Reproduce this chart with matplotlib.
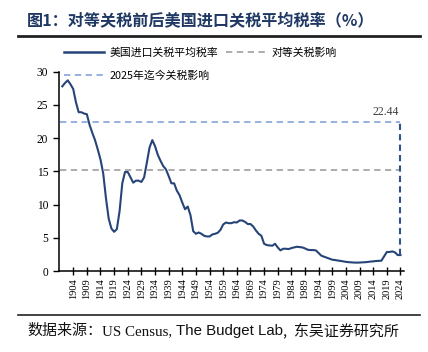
import matplotlib
matplotlib.use("Agg")
import matplotlib.pyplot as plt
from matplotlib.lines import Line2D

years = list(range(1900, 2025))
tariff = [
    27.8, 28.3, 28.7, 28.1, 27.4, 25.4, 23.9, 23.9, 23.7, 23.6,
    22.0, 20.8, 19.7, 18.3, 16.8, 14.7, 11.0, 7.9, 6.4, 5.9,
    6.3, 9.0, 13.2, 14.9, 14.9, 14.1, 13.3, 13.6, 13.6, 13.4,
    14.1, 16.3, 18.6, 19.7, 18.8, 17.5, 16.6, 15.8, 15.3, 14.3,
    13.2, 13.2, 12.1, 11.4, 10.3, 9.3, 9.7, 8.4, 6.0, 5.6,
    5.8, 5.6, 5.3, 5.2, 5.2, 5.5, 5.6, 5.75, 6.2, 7.0,
    7.3, 7.2, 7.2, 7.35, 7.3, 7.6, 7.6, 7.4, 7.07, 7.07,
    6.7, 6.1, 5.6, 5.3, 4.1, 3.9, 3.85, 3.8, 4.1, 3.55,
    3.1, 3.35, 3.35, 3.3, 3.45, 3.55, 3.65, 3.6, 3.55, 3.4,
    3.2, 3.15, 3.15, 3.1, 2.7, 2.3, 2.15, 2.0, 1.85, 1.7,
    1.65, 1.58, 1.52, 1.45, 1.38, 1.33, 1.3, 1.27, 1.26, 1.27,
    1.3, 1.32, 1.36, 1.42, 1.45, 1.5, 1.53, 1.55, 2.2, 2.86,
    2.86, 2.95, 2.8, 2.4, 2.4,
]
reciprocal_level = 15.2
ytd_level = 22.44
tick_years = list(range(1904, 2025, 5))
y_ticks = [0, 5, 10, 15, 20, 25, 30]

title = "图1：对等关税前后美国进口关税平均税率（%）"
legend_labels = ["美国进口关税平均税率", "2025年迄今关税影响", "对等关税影响"]

CJK = ["Noto Sans CJK SC", "DejaVu Sans"]
SERIF = ["Liberation Serif", "Noto Sans CJK SC"]

c_main = "#264478"
c_light = "#8FAADC"
c_gray = "#A6A6A6"
c_vert = "#2F528F"

fig = plt.figure(figsize=(4.28, 3.52), dpi=100)
ax = fig.add_axes([59.3 / 428, 1 - 271 / 352, (404 - 59.3) / 428, (271 - 71.7) / 352])

ax.plot(years, tariff, color=c_main, lw=1.5, solid_joinstyle="round")
last_year = years[-1]
ax.plot([years[0] - 1, last_year], [ytd_level, ytd_level], color=c_light, lw=1.3,
        linestyle=(0, (3.5, 2.5)))
ax.plot([years[0] - 1, last_year], [reciprocal_level, reciprocal_level], color=c_gray, lw=1.3,
        linestyle=(0, (3.5, 2.5)))
ax.plot([last_year, last_year], [tariff[-1], ytd_level], color=c_vert, lw=1.5,
        linestyle=(0, (3.0, 2.0)))
ax.text(last_year - 0.5, ytd_level + 0.6, f"{ytd_level:.2f}", ha="right", va="bottom",
        fontsize=8.5, family=SERIF, color="#404040")

ax.set_xlim(1898.9, 2025.3)
ax.set_ylim(0, 30)
ax.set_yticks(y_ticks)
ax.set_yticklabels([str(v) for v in y_ticks], family=SERIF, fontsize=8.3)
ax.set_xticks(tick_years)
ax.set_xticklabels([str(v) for v in tick_years], family=SERIF, fontsize=7.5, rotation=90)
ax.tick_params(axis="y", direction="out", length=4, width=1, pad=4, colors="#000000")
ax.tick_params(axis="x", direction="inout", length=6, width=1, pad=2)
for s in ["top", "right"]:
    ax.spines[s].set_visible(False)
for s in ["left", "bottom"]:
    ax.spines[s].set_linewidth(1.1)
ax.patch.set_alpha(0)

handles = [
    Line2D([], [], color=c_main, lw=1.8),
    Line2D([], [], color=c_light, lw=1.3, linestyle=(0, (3.5, 2.5))),
    Line2D([], [], color=c_gray, lw=1.3, linestyle=(0, (3.5, 2.5))),
]
fig.legend(handles, legend_labels, loc="upper left", bbox_to_anchor=(64 / 428, 1 - 48 / 352),
           ncol=2, frameon=False, prop={"family": CJK, "size": 7.8}, handlelength=3.7,
           handletextpad=0.5, columnspacing=0.7, labelspacing=1.15, borderpad=0, borderaxespad=0)

fig.text(27 / 428, 1 - 20 / 352, title, fontsize=11.6, fontweight="bold", family=CJK,
         color="#1F3864", ha="left", va="center")
fig.add_artist(Line2D([18 / 428, 420 / 428], [1 - 36 / 352] * 2, color="#222222", lw=2,
                      transform=fig.transFigure))
fig.add_artist(Line2D([18 / 428, 420 / 428], [1 - 315 / 352] * 2, color="#222222", lw=1.2,
                      transform=fig.transFigure))

src_parts = [("数据来源：", CJK), ("US Census, ", ["Liberation Serif"]),
             ("The Budget Lab", ["Liberation Sans"]), (",  东吴证券研究所", CJK)]
renderer = fig.canvas.get_renderer()
x_cur = 27 / 428
y_base = 1 - 335 / 352
for txt, fam in src_parts:
    t = fig.text(x_cur, y_base, txt, fontsize=10.8, family=fam, ha="left", va="baseline",
                 color="#111111")
    bb = t.get_window_extent(renderer=renderer)
    x_cur = bb.x1 / fig.bbox.width

fig.savefig("out.png", dpi=100)
